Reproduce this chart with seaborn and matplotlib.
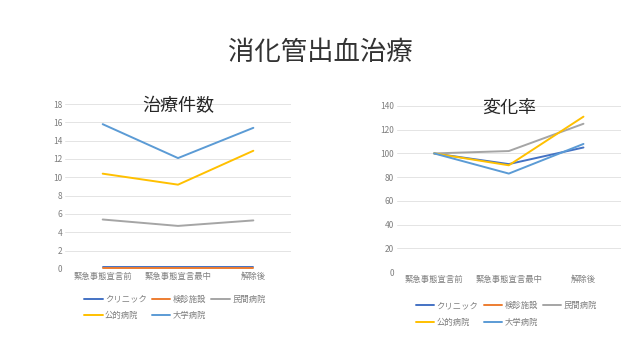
import pandas as pd
import seaborn as sns
import matplotlib.pyplot as plt
import numpy as np

sns.set_style('white')
plt.rcParams['font.family'] = ['Noto Sans CJK JP', 'DejaVu Sans']

periods = ['緊急事態宣言前', '緊急事態宣言最中', '解除後']
facilities = ['クリニック', '検診施設', '民間病院', '公的病院', '大学病院']
colors = ['#4472C4', '#ED7D31', '#A5A5A5', '#FFC000', '#5B9BD5']

# 治療件数
count_clinic = [0.2, 0.2, 0.2]
count_kenshin = [0.1, 0.1, 0.1]
count_minkan = [5.4, 4.7, 5.3]
count_koteki = [10.4, 9.2, 12.9]
count_daigaku = [15.8, 12.1, 15.4]

# 変化率
rate_clinic = [100, 91, 105]
rate_kenshin = [np.nan, np.nan, np.nan]
rate_minkan = [100, 102, 125]
rate_koteki = [100, 90, 131]
rate_daigaku = [100, 83, 108]


def to_long(series):
    rows = []
    for name, vals in zip(facilities, series):
        for p, v in zip(periods, vals):
            rows.append({'period': p, 'facility': name, 'value': v})
    return pd.DataFrame(rows)


df_count = to_long([count_clinic, count_kenshin, count_minkan, count_koteki, count_daigaku])
df_rate = to_long([rate_clinic, rate_kenshin, rate_minkan, rate_koteki, rate_daigaku])

fig = plt.figure(figsize=(6.4, 3.6), dpi=100)
fig.text(0.5, 0.855, '消化管出血治療', ha='center', va='center', fontsize=19, color='#333333')

ax1 = fig.add_axes([0.1016, 0.2528, 0.3531, 0.4583])
ax2 = fig.add_axes([0.620, 0.2444, 0.350, 0.4612])

setups = [
    (ax1, df_count, '治療件数', np.arange(0, 19, 2), 18, -0.135),
    (ax2, df_rate, '変化率', np.arange(0, 141, 20), 140, -0.155),
]

# row-wise legend order for 3 columns
order = [0, 3, 1, 4, 2]

for ax, df, title, ticks, top, leg_y in setups:
    sns.lineplot(data=df, x='period', y='value', hue='facility', hue_order=facilities,
                 palette=colors, sort=False, linewidth=1.4, ax=ax)
    ax.set_xlim(-0.5, 2.5)
    ax.set_ylim(0, top)
    ax.set_yticks(ticks)
    ax.grid(axis='y', color='#E4E4E4', linewidth=0.7)
    ax.set_axisbelow(True)
    for s in ax.spines.values():
        s.set_visible(False)
    ax.tick_params(axis='both', labelsize=6, colors='#7F7F7F', length=0, pad=2)
    ax.set_xlabel('')
    ax.set_ylabel('')
    ax.text(0.5, 0.99, title, transform=ax.transAxes, ha='center', va='center',
            fontsize=13, color='#262626')
    handles, labels = ax.get_legend_handles_labels()
    ax.legend([handles[i] for i in order], [labels[i] for i in order],
              loc='upper left', bbox_to_anchor=(0.07, leg_y), ncol=3,
              frameon=False, fontsize=6, labelcolor='#7F7F7F', handlelength=2.2,
              handletextpad=0.3, columnspacing=0.6, borderaxespad=0, labelspacing=0.9)

fig.savefig('out.png', dpi=100)
